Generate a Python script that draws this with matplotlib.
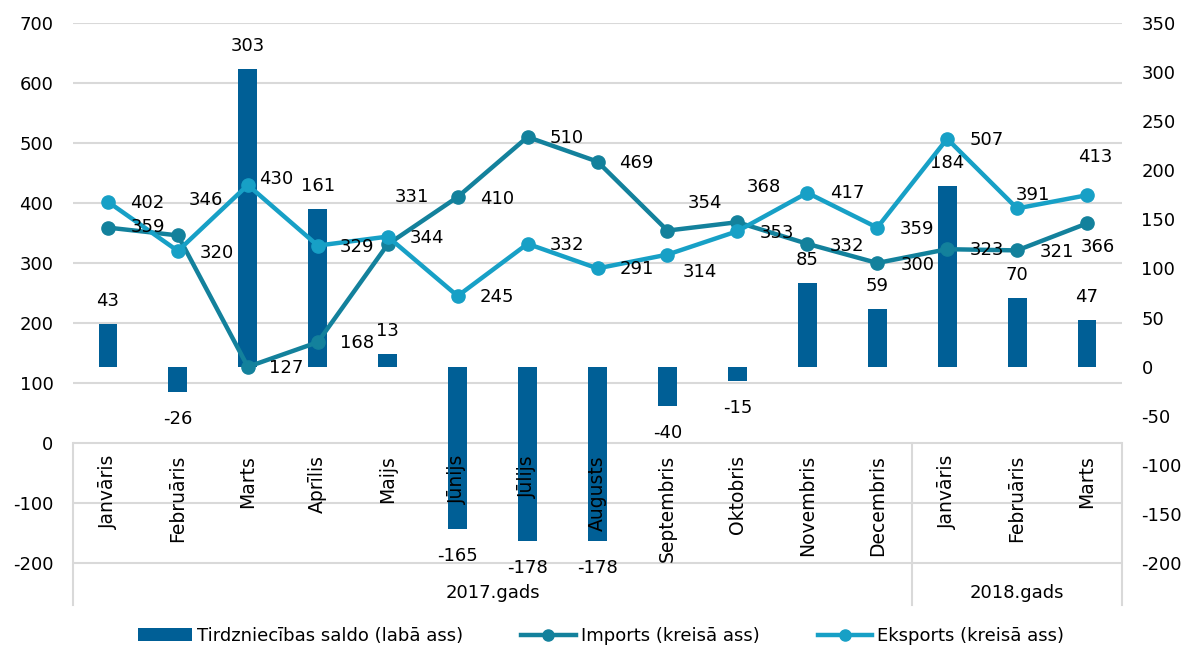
import matplotlib
matplotlib.use("Agg")
import matplotlib.pyplot as plt
from matplotlib.lines import Line2D
from matplotlib.patches import Patch

# ---- data ----
months = ["Janvāris", "Februāris", "Marts", "Aprīlis", "Maijs", "Jūnijs", "Jūlijs",
          "Augusts", "Septembris", "Oktobris", "Novembris", "Decembris",
          "Janvāris", "Februāris", "Marts"]
years = ["2017.gads", "2018.gads"]
year_counts = [12, 3]
imports = [359, 346, 127, 168, 331, 410, 510, 469, 354, 368, 332, 300, 323, 321, 366]
exports = [402, 320, 430, 329, 344, 245, 332, 291, 314, 353, 417, 359, 507, 391, 413]
saldo = [43, -26, 303, 161, 13, -165, -178, -178, -40, -15, 85, 59, 184, 70, 47]
left_ticks = [-200, -100, 0, 100, 200, 300, 400, 500, 600, 700]
right_ticks = [-200, -150, -100, -50, 0, 50, 100, 150, 200, 250, 300, 350]

# ---- styles ----
C_BAR = "#005F96"
C_IMP = "#13819C"
C_EXP = "#17A0C6"
C_GRID = "#D9D9D9"
FS = 13
FS_CAT = 13.5
PX = 0.72  # px -> pt at dpi 100

imp_off = [(40, -1), (28, -35), (38, 1), (39, 1), (24, -47), (39, 2), (39, 1), (39, 1),
           (38, -28), (26, -35), (40, 2), (40, 2), (40, 1), (40, 2), (11, 24)]
exp_off = [(39, 1), (39, 2), (28, -6), (39, 1), (39, 1), (39, 1), (39, 1), (39, 1),
           (32, 17), (40, 2), (40, 0), (40, 1), (40, 1), (16, -13), (8, -38)]

plt.rcParams['font.family'] = ['DejaVu Sans']
plt.rcParams['axes.unicode_minus'] = False

fig = plt.figure(figsize=(11.87, 6.5), dpi=100)
ax = fig.add_axes([73 / 1187, 1 - 605 / 650, (1122 - 73) / 1187, (605 - 23) / 650])
ax2 = ax.twinx()

L_MIN, L_MAX = -270, 700
R_MIN, R_MAX = -242.8, 350
ax.set_ylim(L_MIN, L_MAX)
ax2.set_ylim(R_MIN, R_MAX)
n = len(months)
x = list(range(n))
ax.set_xlim(-0.5, n - 0.5)

for t in left_ticks:
    ax.axhline(t, color=C_GRID, lw=1.5, zorder=0)
ax.set_yticks(left_ticks)
ax2.set_yticks(right_ticks)
for a in (ax, ax2):
    for s in a.spines.values():
        s.set_visible(False)
    a.tick_params(axis='y', length=0, labelsize=FS, pad=14)
ax.set_xticks([])
ax2.set_xticks([])

ax.set_zorder(1)
ax.patch.set_visible(False)
ax2.set_zorder(2)
ax2.patch.set_visible(False)

# bars on right axis
ax2.bar(x, saldo, width=0.27, color=C_BAR, zorder=2)
for xi, v in zip(x, saldo):
    dy = -23 if v >= 0 else 27
    ax2.annotate(str(v), (xi, v), xytext=(0, -dy * PX), textcoords='offset points',
                 ha='center', va='center', fontsize=FS, zorder=5)

# lines above bars, on left-axis scale
ax3 = fig.add_axes(ax.get_position(), sharex=ax)
ax3.set_ylim(L_MIN, L_MAX)
ax3.set_zorder(3)
ax3.patch.set_visible(False)
ax3.axis('off')
ax3.plot(x, imports, color=C_IMP, lw=3.2, marker='o', ms=9.5, zorder=3, solid_joinstyle='round')
ax3.plot(x, exports, color=C_EXP, lw=3.2, marker='o', ms=9.5, zorder=4, solid_joinstyle='round')
for xi, v, (dx, dy) in zip(x, imports, imp_off):
    ax3.annotate(str(v), (xi, v), xytext=(dx * PX, -dy * PX), textcoords='offset points',
                 ha='center', va='center', fontsize=FS, zorder=6)
for xi, v, (dx, dy) in zip(x, exports, exp_off):
    ax3.annotate(str(v), (xi, v), xytext=(dx * PX, -dy * PX), textcoords='offset points',
                 ha='center', va='center', fontsize=FS, zorder=6)

# multi-level category axis
for xi, m in zip(x, months):
    ax3.text(xi, -20, m, rotation=90, ha='center', va='top', fontsize=FS_CAT, zorder=7)
bounds = [-0.5]
for c in year_counts:
    bounds.append(bounds[-1] + c)
for b in bounds:
    ax3.plot([b, b], [0, L_MIN], color=C_GRID, lw=1.5, zorder=1, clip_on=False)
for i, yname in enumerate(years):
    ax3.text((bounds[i] + bounds[i + 1]) / 2, -250, yname, ha='center', va='center',
             fontsize=FS, zorder=7)

# legend
handles = [Patch(facecolor=C_BAR, edgecolor='none'),
           Line2D([], [], color=C_IMP, lw=3.2, marker='o', ms=8),
           Line2D([], [], color=C_EXP, lw=3.2, marker='o', ms=8)]
labels = ["Tirdzniecības saldo (labā ass)", "Imports (kreisā ass)", "Eksports (kreisā ass)"]
fig.legend(handles, labels, loc='center', bbox_to_anchor=(601 / 1187, 1 - 636 / 650),
           ncol=3, frameon=False, fontsize=FS, handlelength=3.0, handletextpad=0.3,
           columnspacing=3.2)

fig.savefig("out.png", dpi=100)
